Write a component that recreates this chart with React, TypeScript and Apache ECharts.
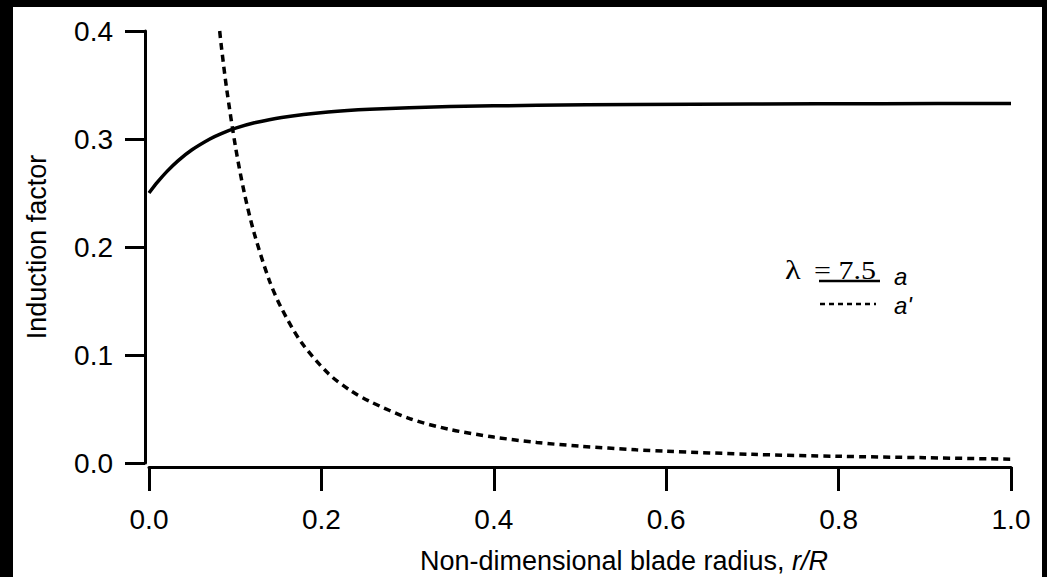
import React, { useEffect, useRef } from "react";
import * as echarts from "echarts";

// Induction factor a (solid) vs r/R
const radiusA = [0, 0.0098, 0.0209, 0.0339, 0.0499, 0.0706, 0.0839, 0.1005, 0.1223, 0.1539, 0.2078, 0.2562, 0.3492, 0.45, 0.5652, 0.7, 0.85, 1.0];
const valuesA = [0.25, 0.26, 0.27, 0.28, 0.29, 0.3, 0.305, 0.31, 0.315, 0.32, 0.325, 0.3275, 0.33, 0.3312, 0.332, 0.3324, 0.3327, 0.3329];

// Angular induction factor a' (dashed) vs r/R
const radiusAp = [0.082, 0.0839, 0.09, 0.1005, 0.1106, 0.1223, 0.1396, 0.1539, 0.1765, 0.2078, 0.2339, 0.2562, 0.3027, 0.3492, 0.4, 0.45, 0.5, 0.5652, 0.6, 0.7, 0.8, 0.9, 1.0];
const valuesAp = [0.4, 0.386, 0.347, 0.292, 0.25, 0.212, 0.169, 0.143, 0.112, 0.083, 0.067, 0.057, 0.041, 0.031, 0.024, 0.019, 0.0156, 0.0122, 0.0109, 0.008, 0.0062, 0.0049, 0.0035];

const xTicks = { min: 0, max: 1.0, interval: 0.2 };
const yTicks = { min: 0, max: 0.4, interval: 0.1 };

const xName = "Non-dimensional blade radius, ";
const xNameItalic = "r/R";
const yName = "Induction factor";
const legendLambda = "λ";
const legendValue = "= 7.5";
const legendA = "a";
const legendAp = "a'";

const SANS = "'Liberation Sans', Arial, Helvetica, sans-serif";
const SERIF = "'Liberation Serif', 'Times New Roman', serif";

export default function App() {
  const ref = useRef<HTMLDivElement>(null);
  useEffect(() => {
    if (!ref.current) return;
    const chart = echarts.init(ref.current, null, { renderer: "svg" });
    const option: any = {
      animation: false,
      backgroundColor: "#ffffff",
      grid: { left: 149, right: 36, top: 31, bottom: 114, containLabel: false, outerBoundsMode: "none" },
      xAxis: {
        type: "value",
        min: xTicks.min,
        max: xTicks.max,
        interval: xTicks.interval,
        offset: 4,
        axisLine: { onZero: false, lineStyle: { color: "#000", width: 3 } },
        axisTick: { length: 24, lineStyle: { color: "#000", width: 3 } },
        axisLabel: {
          margin: 38,
          fontSize: 28,
          fontFamily: SANS,
          color: "#000",
          formatter: (v: number) => v.toFixed(1),
        },
        splitLine: { show: false },
        name: "{n|" + xName + "}{i|" + xNameItalic + "}",
        nameLocation: "middle",
        nameGap: 80,
        nameTextStyle: {
          padding: [0, 0, 0, 88],
          rich: {
            n: { fontSize: 27, fontFamily: SANS, color: "#000" },
            i: { fontSize: 27, fontFamily: SANS, fontStyle: "italic", color: "#000" },
          },
        },
      },
      yAxis: {
        type: "value",
        min: yTicks.min,
        max: yTicks.max,
        interval: yTicks.interval,
        offset: 4,
        axisLine: { show: true, onZero: false, lineStyle: { color: "#000", width: 3 } },
        axisTick: { show: true, length: 20, lineStyle: { color: "#000", width: 3 } },
        axisLabel: {
          margin: 32,
          fontSize: 28,
          fontFamily: SANS,
          color: "#000",
          formatter: (v: number) => v.toFixed(1),
        },
        splitLine: { show: false },
        name: yName,
        nameLocation: "middle",
        nameGap: 95,
        nameTextStyle: { fontSize: 27, fontFamily: SANS, color: "#000" },
      },
      series: [
        {
          name: "a",
          type: "line",
          data: radiusA.map((r, i) => [r, valuesA[i]]),
          showSymbol: false,
          smooth: 0.3,
          lineStyle: { color: "#000", width: 3.5, type: "solid" },
          clip: true,
        },
        {
          name: "a'",
          type: "line",
          data: radiusAp.map((r, i) => [r, valuesAp[i]]),
          showSymbol: false,
          smooth: 0.3,
          lineStyle: { color: "#000", width: 3.5, type: [7, 5] },
          clip: true,
        },
      ],
      graphic: [
        { type: "rect", shape: { x: 0, y: 0, width: 13, height: 577 }, style: { fill: "#000" } },
        { type: "rect", shape: { x: 0, y: 0, width: 1047, height: 7 }, style: { fill: "#000" } },
        { type: "rect", shape: { x: 1042, y: 0, width: 5, height: 577 }, style: { fill: "#000" } },
        {
          type: "text",
          x: 785,
          y: 269,
          scaleX: 1.2,
          style: { text: legendLambda, fontSize: 27, fontFamily: SERIF, fill: "#000", verticalAlign: "middle", align: "left" },
        },
        {
          type: "text",
          x: 814,
          y: 270,
          scaleX: 1.2,
          style: { text: legendValue, fontSize: 25, fontFamily: SERIF, fill: "#000", verticalAlign: "middle", align: "left" },
        },
        {
          type: "line",
          shape: { x1: 819, y1: 281, x2: 880, y2: 281 },
          style: { stroke: "#000", lineWidth: 2.5 },
        },
        {
          type: "text",
          x: 894,
          y: 276,
          style: { text: legendA, fontSize: 24, fontFamily: SANS, fontStyle: "italic", fill: "#000", verticalAlign: "middle", align: "left" },
        },
        {
          type: "line",
          shape: { x1: 820, y1: 304, x2: 876, y2: 304 },
          style: { stroke: "#000", lineWidth: 2.5, lineDash: [5, 4] },
        },
        {
          type: "text",
          x: 894,
          y: 305,
          style: { text: legendAp, fontSize: 24, fontFamily: SANS, fontStyle: "italic", fill: "#000", verticalAlign: "middle", align: "left" },
        },
      ],
    };
    chart.setOption(option);
    return () => chart.dispose();
  }, []);
  return (
    <div
      ref={ref}
      style={{ position: "fixed", left: 0, top: 0, width: 1047, height: 577, background: "#fff" }}
    />
  );
}
